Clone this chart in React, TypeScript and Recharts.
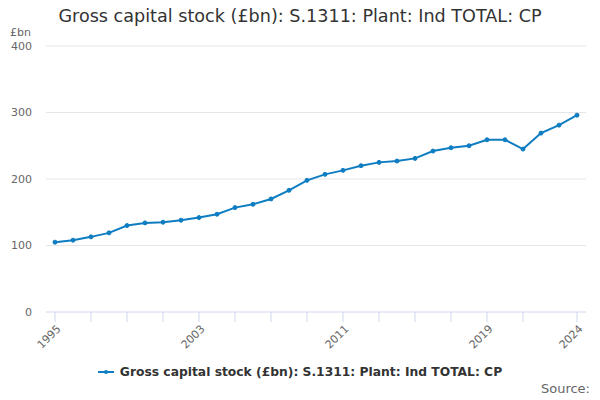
import React from "react";
import { LineChart, Line, XAxis, YAxis, CartesianGrid } from "recharts";

const years = [1995,1996,1997,1998,1999,2000,2001,2002,2003,2004,2005,2006,2007,2008,2009,2010,2011,2012,2013,2014,2015,2016,2017,2018,2019,2020,2021,2022,2023,2024];
const values = [105,108,113,119,130,134,135,138,142,147,157,162,170,183,198,207,213,220,225,227,231,242,247,250,259,259,245,269,281,296];
const xTicks = [1995,1997,1999,2001,2003,2005,2007,2009,2011,2013,2015,2017,2019,2021,2024];
const xLabels = [1995,2003,2011,2019,2024];
const yTicks = [0,100,200,300,400];

const TITLE = "Gross capital stock (£bn): S.1311: Plant: Ind TOTAL: CP";
const COLOR = "#0f7dc2";
const FONT = "'DejaVu Sans', sans-serif";

const data = years.map((y, i) => ({ year: y, value: values[i] }));

const XTick = (props: any) => {
  const { x, y, payload } = props;
  if (!xLabels.includes(payload.value)) return null;
  const ax = x + 4;
  const ay = y + 3;
  return (
    <text
      x={ax}
      y={ay}
      transform={`rotate(-45 ${ax} ${ay})`}
      textAnchor="end"
      fill="#666666"
      fontSize={11}
      fontFamily={FONT}
      dominantBaseline="central"
    >
      {payload.value}
    </text>
  );
};

export default function App() {
  return (
    <div style={{ position: "absolute", left: 0, top: 0, width: 600, height: 400, background: "#fff", fontFamily: FONT }}>
      <div style={{ position: "absolute", left: 0, top: 6, width: 600, textAlign: "center", fontSize: 17.6, color: "#333333", fontFamily: FONT, whiteSpace: "nowrap" }}>
        {TITLE}
      </div>
      <div style={{ position: "absolute", left: 10, top: 26, fontSize: 11, color: "#666666", fontFamily: FONT }}>£bn</div>
      <LineChart width={600} height={400} data={data} margin={{ top: 46, right: 14, left: 0, bottom: 0 }}>
        <CartesianGrid vertical={false} stroke="#e6e6e6" horizontalValues={[100, 200, 300, 400]} />
        <XAxis
          dataKey="year"
          type="number"
          domain={[1994.5, 2024.5]}
          ticks={xTicks}
          interval={0}
          height={88}
          stroke="#ccd6eb"
          tickLine={{ stroke: "#ccd6eb" }}
          tickSize={10}
          tick={<XTick />}
        />
        <YAxis
          type="number"
          domain={[0, 400]}
          ticks={yTicks}
          width={46}
          axisLine={false}
          tickLine={false}
          tick={{ fill: "#666666", fontSize: 11, fontFamily: FONT }}
          tickMargin={8}
        />
        <Line
          type="linear"
          dataKey="value"
          stroke={COLOR}
          strokeWidth={2}
          dot={{ r: 2, fill: COLOR, stroke: COLOR, strokeWidth: 1 }}
          isAnimationActive={false}
        />
      </LineChart>
      <div style={{ position: "absolute", left: 0, top: 365, width: 600, display: "flex", justifyContent: "center", alignItems: "center", fontSize: 12.3, fontWeight: "bold", color: "#333333", fontFamily: FONT, whiteSpace: "nowrap" }}>
        <svg width={18} height={10} style={{ marginRight: 4 }}>
          <line x1={0} y1={5} x2={16} y2={5} stroke={COLOR} strokeWidth={2} />
          <circle cx={8} cy={5} r={2} fill={COLOR} />
        </svg>
        <span>{TITLE}</span>
      </div>
      <div style={{ position: "absolute", right: 10, top: 381, fontSize: 13, color: "#666666", fontFamily: FONT }}>Source:</div>
    </div>
  );
}
